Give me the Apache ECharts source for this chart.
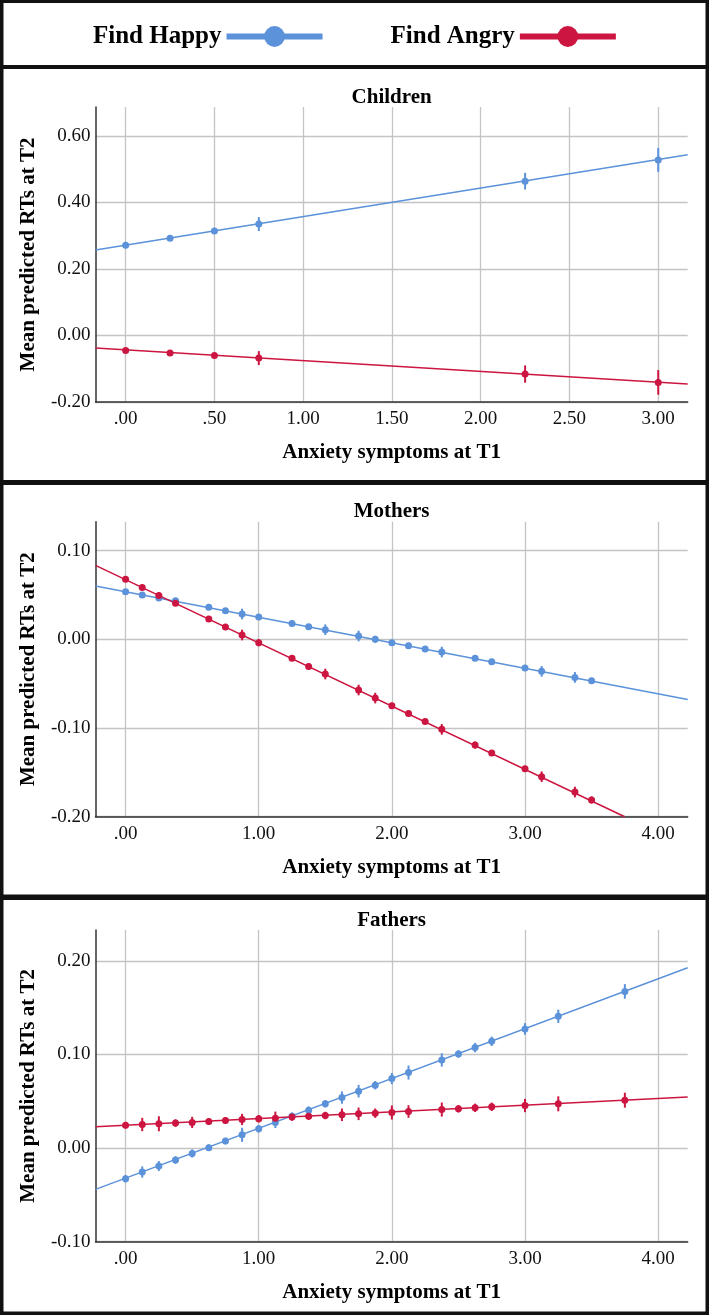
<!DOCTYPE html>
<html>
<head>
<meta charset="utf-8">
<script src="https://cdn.jsdelivr.net/npm/echarts@6/dist/echarts.min.js"></script>
<style>
html,body{margin:0;padding:0;background:#fff;}
#chart{width:709px;height:1315px;}
</style>
</head>
<body>
<div id="chart"></div>
<script>
// ---------- data ----------
const seriesNames = ['Find Happy', 'Find Angry'];
const panelTitles = ['Children', 'Mothers', 'Fathers'];
const xAxisTitle = 'Anxiety symptoms at T1';
const yAxisTitle = 'Mean predicted RTs at T2';

// Children
const xChildren = [0, 0.25, 0.5, 0.75, 2.25, 3.0];
const childHappy = [0.271, 0.292, 0.314, 0.335, 0.464, 0.528];
const childHappyErr = [0.005, 0.005, 0.006, 0.021, 0.025, 0.036];
const childAngry = [-0.045, -0.053, -0.060, -0.068, -0.116, -0.141];
const childAngryErr = [0.006, 0.006, 0.007, 0.021, 0.026, 0.037];
const childHappyFit = [[-0.17, 0.257], [3.166, 0.5435]];
const childAngryFit = [[-0.17, -0.038], [3.166, -0.146]];

// Mothers
const xMothers = [0, 0.125, 0.25, 0.375, 0.625, 0.75, 0.875, 1, 1.25, 1.375, 1.5, 1.75, 1.875, 2, 2.125, 2.25, 2.375, 2.625, 2.75, 3, 3.125, 3.375, 3.5];
const motherHappy = [0.0538, 0.0500, 0.0466, 0.0436, 0.0361, 0.0323, 0.0286, 0.0252, 0.0180, 0.0143, 0.0109, 0.0038, 0.0000, -0.0038, -0.0071, -0.0109, -0.0143, -0.0214, -0.0252, -0.0323, -0.0361, -0.0429, -0.0466];
const motherHappyErr = [0.003, 0.003, 0.003, 0.003, 0.003, 0.003, 0.006, 0.003, 0.003, 0.003, 0.006, 0.006, 0.004, 0.003, 0.003, 0.003, 0.006, 0.003, 0.003, 0.003, 0.006, 0.006, 0.003];
const motherAngry = [0.0677, 0.0586, 0.0496, 0.0406, 0.0229, 0.0139, 0.0049, -0.0038, -0.0214, -0.0305, -0.0391, -0.0571, -0.0662, -0.0748, -0.0835, -0.0925, -0.1015, -0.1192, -0.1282, -0.1459, -0.1549, -0.1722, -0.1812];
const motherAngryErr = [0.003, 0.003, 0.003, 0.003, 0.003, 0.003, 0.006, 0.004, 0.003, 0.003, 0.006, 0.006, 0.006, 0.003, 0.003, 0.003, 0.006, 0.004, 0.003, 0.003, 0.006, 0.006, 0.004];
const motherHappyFit = [[-0.226, 0.0602], [4.222, -0.0677]];
const motherAngryFit = [[-0.226, 0.0835], [3.749, -0.2]];

// Fathers
const xFathers = [0, 0.125, 0.25, 0.375, 0.5, 0.625, 0.75, 0.875, 1, 1.125, 1.25, 1.375, 1.5, 1.625, 1.75, 1.875, 2, 2.125, 2.375, 2.5, 2.625, 2.75, 3, 3.25, 3.75];
const fatherHappy = [-0.0327, -0.0256, -0.0192, -0.0128, -0.0057, 0.0004, 0.0075, 0.0142, 0.0206, 0.0274, 0.0341, 0.0405, 0.0473, 0.0540, 0.0608, 0.0672, 0.0743, 0.0807, 0.0942, 0.1006, 0.1074, 0.1141, 0.1273, 0.1408, 0.1674];
const fatherHappyErr = [0.004, 0.006, 0.0053, 0.004, 0.0043, 0.0035, 0.0035, 0.0075, 0.004, 0.006, 0.004, 0.004, 0.004, 0.0066, 0.0067, 0.0045, 0.006, 0.0075, 0.0071, 0.004, 0.005, 0.005, 0.0062, 0.0071, 0.0078];
const fatherAngry = [0.0245, 0.0252, 0.0260, 0.0267, 0.0274, 0.0284, 0.0295, 0.0306, 0.0313, 0.0320, 0.0331, 0.0341, 0.0348, 0.0356, 0.0366, 0.0373, 0.0380, 0.0391, 0.0412, 0.0420, 0.0430, 0.0441, 0.0455, 0.0473, 0.0512];
const fatherAngryErr = [0.0035, 0.0071, 0.008, 0.004, 0.006, 0.0035, 0.0035, 0.006, 0.004, 0.007, 0.004, 0.004, 0.004, 0.0067, 0.0067, 0.005, 0.0075, 0.0067, 0.0075, 0.004, 0.0045, 0.0045, 0.0071, 0.008, 0.008];
const fatherHappyFit = [[-0.226, -0.0441], [4.222, 0.1927]];
const fatherAngryFit = [[-0.226, 0.0228], [4.222, 0.0547]];

// Axes: ranges and tick labels
const xRangeChildren = [-0.17, 3.166];
const xTicksChildren = [0, 0.5, 1, 1.5, 2, 2.5, 3];
const xLabelsChildren = ['.00', '.50', '1.00', '1.50', '2.00', '2.50', '3.00'];
const yRangeChildren = [-0.2, 0.687];
const yTicksChildren = [-0.2, 0, 0.2, 0.4, 0.6];
const yLabelsChildren = ['-0.20', '0.00', '0.20', '0.40', '0.60'];

const xRangeParents = [-0.226, 4.222];
const xTicksParents = [0, 1, 2, 3, 4];
const xLabelsParents = ['.00', '1.00', '2.00', '3.00', '4.00'];
const yRangeMothers = [-0.2, 0.1327];
const yTicksMothers = [-0.2, -0.1, 0, 0.1];
const yLabelsMothers = ['-0.20', '-0.10', '0.00', '0.10'];
const yRangeFathers = [-0.1, 0.233];
const yTicksFathers = [-0.1, 0, 0.1, 0.2];
const yLabelsFathers = ['-0.10', '0.00', '0.10', '0.20'];

// ---------- styling ----------
const FONT = '"Liberation Serif", "Times New Roman", serif';
const HAPPY = '#5b92d9';
const ANGRY = '#cc1540';
const GRID_COLOR = '#c4c4c4';

const panels = [
  {title: panelTitles[0], top: 107, height: 295, xr: xRangeChildren, xt: xTicksChildren, xl: xLabelsChildren, yr: yRangeChildren, yt: yTicksChildren, yl: yLabelsChildren,
   x: xChildren, h: childHappy, he: childHappyErr, a: childAngry, ae: childAngryErr, hf: childHappyFit, af: childAngryFit, titleY: 98},
  {title: panelTitles[1], top: 521.7, height: 295, xr: xRangeParents, xt: xTicksParents, xl: xLabelsParents, yr: yRangeMothers, yt: yTicksMothers, yl: yLabelsMothers,
   x: xMothers, h: motherHappy, he: motherHappyErr, a: motherAngry, ae: motherAngryErr, hf: motherHappyFit, af: motherAngryFit, titleY: 512},
  {title: panelTitles[2], top: 930, height: 311.7, xr: xRangeParents, xt: xTicksParents, xl: xLabelsParents, yr: yRangeFathers, yt: yTicksFathers, yl: yLabelsFathers,
   x: xFathers, h: fatherHappy, he: fatherHappyErr, a: fatherAngry, ae: fatherAngryErr, hf: fatherHappyFit, af: fatherAngryFit, titleY: 921}
];

const GRID_LEFT = 95.5, GRID_RIGHT = 21.3;

function lookup(ticks, labels) {
  return function (v) {
    for (let i = 0; i < ticks.length; i++) if (Math.abs(ticks[i] - v) < 1e-6) return labels[i];
    return '';
  };
}

const grids = [], xAxes = [], yAxes = [], series = [], graphics = [];

function errRender(color) {
  return function (params, api) {
    const x = api.value(0), lo = api.value(1), hi = api.value(2);
    const p1 = api.coord([x, lo]), p2 = api.coord([x, hi]);
    return {type: 'line', shape: {x1: p1[0], y1: p1[1], x2: p2[0], y2: p2[1]}, style: {stroke: color, lineWidth: 2}};
  };
}

panels.forEach(function (p, i) {
  grids.push({left: GRID_LEFT, right: GRID_RIGHT, top: p.top, height: p.height, containLabel: false});
  xAxes.push({
    type: 'value', gridIndex: i, min: p.xr[0], max: p.xr[1],
    name: xAxisTitle, nameLocation: 'middle', nameGap: 40,
    nameTextStyle: {fontFamily: FONT, fontWeight: 'bold', fontSize: 21, color: '#000'},
    axisLine: {show: true, onZero: false, lineStyle: {color: '#333', width: 1.5}},
    axisTick: {show: false, customValues: p.xt},
    axisLabel: {customValues: p.xt, formatter: lookup(p.xt, p.xl), fontFamily: FONT, fontSize: 19, color: '#111', margin: 8},
    splitLine: {show: true, lineStyle: {color: GRID_COLOR, width: 1.3}}
  });
  yAxes.push({
    type: 'value', gridIndex: i, min: p.yr[0], max: p.yr[1],
    name: yAxisTitle, nameLocation: 'middle', nameGap: 56,
    nameTextStyle: {fontFamily: FONT, fontWeight: 'bold', fontSize: 21, color: '#000'},
    axisLine: {show: true, onZero: false, lineStyle: {color: '#333', width: 1.5}},
    axisTick: {show: false, customValues: p.yt},
    axisLabel: {customValues: p.yt, formatter: lookup(p.yt, p.yl), fontFamily: FONT, fontSize: 19, color: '#111', margin: 5},
    splitLine: {show: true, lineStyle: {color: GRID_COLOR, width: 1.3}}
  });

  const groups = [
    {name: seriesNames[0], color: HAPPY, y: p.h, e: p.he, fit: p.hf},
    {name: seriesNames[1], color: ANGRY, y: p.a, e: p.ae, fit: p.af}
  ];
  groups.forEach(function (g) {
    series.push({
      type: 'line', name: g.name, xAxisIndex: i, yAxisIndex: i,
      data: g.fit, showSymbol: false, symbol: 'circle', symbolSize: 10,
      lineStyle: {color: g.color, width: 1.5}, itemStyle: {color: g.color},
      silent: true, z: 2
    });
  });
  groups.forEach(function (g) {
    series.push({
      type: 'custom', name: g.name, xAxisIndex: i, yAxisIndex: i,
      data: p.x.map(function (xv, k) { return [xv, g.y[k] - g.e[k], g.y[k] + g.e[k]]; }),
      encode: {x: 0, y: [1, 2]},
      renderItem: errRender(g.color), itemStyle: {color: g.color}, silent: true, z: 3
    });
    series.push({
      type: 'scatter', name: g.name, xAxisIndex: i, yAxisIndex: i,
      data: p.x.map(function (xv, k) { return [xv, g.y[k]]; }),
      symbol: 'circle', symbolSize: 7, itemStyle: {color: g.color, opacity: 1}, silent: true, z: 4
    });
  });

  graphics.push({
    type: 'text', x: GRID_LEFT + (709 - GRID_LEFT - GRID_RIGHT) / 2, y: p.titleY,
    style: {text: p.title, fontFamily: FONT, fontWeight: 'bold', fontSize: 21, fill: '#000', textAlign: 'center', textVerticalAlign: 'middle'}
  });
});

// frame borders
const frameBars = [
  [0, 0, 709, 3],        // top
  [0, 1311.5, 709, 3.5], // bottom
  [0, 0, 3.5, 1315],     // left
  [705.5, 0, 3.5, 1315], // right
  [0, 65, 709, 4],       // legend / panel 1
  [0, 480, 709, 5],      // panel 1 / panel 2
  [0, 894.5, 709, 5.5]   // panel 2 / panel 3
];
frameBars.forEach(function (b) {
  graphics.push({type: 'rect', shape: {x: b[0], y: b[1], width: b[2], height: b[3]}, style: {fill: '#111'}, silent: true, z: 100});
});

const chart = echarts.init(document.getElementById('chart'), null, {renderer: 'canvas'});
chart.setOption({
  animation: false,
  backgroundColor: '#fff',
  legend: {
    data: seriesNames, left: 93, top: 24, padding: 0,
    itemWidth: 96, itemHeight: 26, itemGap: 65, align: 'right',
    lineStyle: {width: 6},
    textStyle: {fontFamily: FONT, fontWeight: 'bold', fontSize: 25, color: '#000'},
    selectedMode: false
  },
  grid: grids,
  xAxis: xAxes,
  yAxis: yAxes,
  series: series,
  graphic: graphics
});
</script>
</body>
</html>
